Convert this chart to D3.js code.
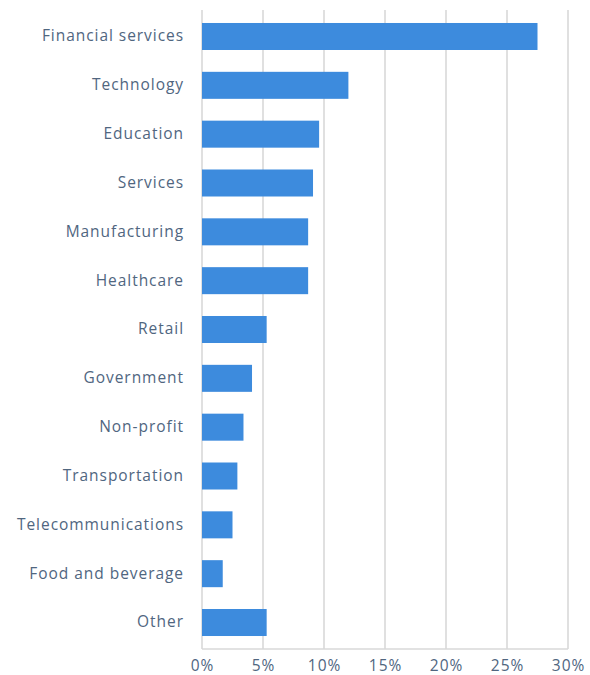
<!DOCTYPE html>
<html>
<head>
<meta charset="utf-8">
<script src="https://cdn.jsdelivr.net/npm/d3@7"></script>
<style>
  html, body { margin: 0; padding: 0; background: #fff; }
  svg text { font-family: "Open Sans", "Noto Sans", sans-serif; }
</style>
</head>
<body>
<svg id="chart" width="590" height="675"></svg>
<script>
// Share of respondents by industry (%)
const industries = [
  "Financial services", "Technology", "Education", "Services", "Manufacturing",
  "Healthcare", "Retail", "Government", "Non-profit", "Transportation",
  "Telecommunications", "Food and beverage", "Other"
];
const shares = [27.5, 12.0, 9.6, 9.1, 8.7, 8.7, 5.3, 4.1, 3.4, 2.9, 2.5, 1.7, 5.3];
const tickValues = [0, 5, 10, 15, 20, 25, 30];

const data = industries.map((name, i) => ({ name, value: shares[i] }));

const svg = d3.select("#chart");
const margin = { top: 10, right: 22, bottom: 26, left: 202 };
const width = 590, height = 675;

const x = d3.scaleLinear()
  .domain([0, 30])
  .range([margin.left, width - margin.right]);

const y = d3.scaleBand()
  .domain(industries)
  .range([margin.top, height - margin.bottom])
  .paddingInner(0.447)
  .paddingOuter(0.266);

const textColor = "#50667f";

// Vertical gridlines
svg.append("g")
  .selectAll("line")
  .data(tickValues)
  .join("line")
  .attr("x1", d => x(d)).attr("x2", d => x(d))
  .attr("y1", margin.top).attr("y2", height - margin.bottom)
  .attr("stroke", "#d9d9d9")
  .attr("stroke-width", 1.6);

// Baseline
svg.append("line")
  .attr("x1", x(0)).attr("x2", x(30))
  .attr("y1", height - margin.bottom).attr("y2", height - margin.bottom)
  .attr("stroke", "#d9d9d9")
  .attr("stroke-width", 1.6);

// Bars
svg.append("g")
  .selectAll("rect")
  .data(data)
  .join("rect")
  .attr("x", x(0))
  .attr("y", d => y(d.name))
  .attr("width", d => x(d.value) - x(0))
  .attr("height", y.bandwidth())
  .attr("fill", "#3d8bdd");

// Category labels
const yAxis = svg.append("g")
  .attr("transform", `translate(${margin.left - 18},0)`)
  .call(d3.axisLeft(y).tickSize(0).tickPadding(0));
yAxis.select(".domain").remove();
yAxis.selectAll("text")
  .attr("fill", textColor)
  .attr("font-size", 15.5)
  .attr("letter-spacing", 0.95);

// Value axis labels
const xAxis = svg.append("g")
  .attr("transform", `translate(0,${height - margin.bottom})`)
  .call(d3.axisBottom(x).tickValues(tickValues).tickFormat(d => d + "%").tickSize(0).tickPadding(11));
xAxis.select(".domain").remove();
xAxis.selectAll("text")
  .attr("fill", textColor)
  .attr("font-size", 15.5)
  .attr("letter-spacing", 0.95);
</script>
</body>
</html>
